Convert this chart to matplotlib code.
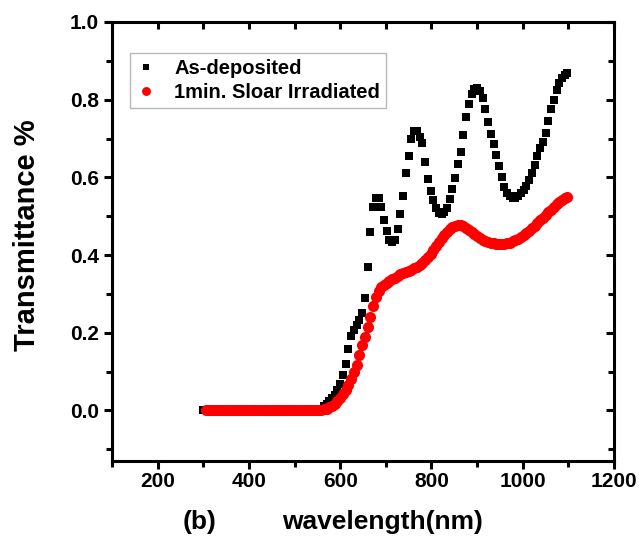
import numpy as np
import matplotlib
matplotlib.use('Agg')
import matplotlib.pyplot as plt
from matplotlib.ticker import MultipleLocator, FormatStrFormatter

plt.rcParams['font.family'] = ['Liberation Sans', 'DejaVu Sans']
plt.rcParams['font.weight'] = 'bold'

# wavelength grid of each scan (nm)
wl_deposited = np.arange(300, 1101, 6)
wl_irradiated = np.arange(306, 1101, 6)

# transmittance of the as-deposited film
T_deposited = [
    0.0, 0.0, 0.0, 0.0, 0.0, 0.0, 0.0, 0.0, 0.0, 0.0,
    0.0, 0.0, 0.0, 0.0, 0.0, 0.0, 0.0, 0.0, 0.0, 0.0,
    0.0, 0.0, 0.0, 0.0, 0.0, 0.0, 0.0, 0.0, 0.0, 0.0,
    0.0, 0.0, 0.0, 0.0, 0.0, 0.0, 0.0, 0.0, 0.0, 0.0,
    0.0, 0.0, 0.0,
    0.005, 0.011, 0.017, 0.024, 0.032, 0.04, 0.052, 0.068, 0.092, 0.12,
    0.158, 0.192, 0.208, 0.22, 0.232, 0.25, 0.29, 0.37, 0.46, 0.525,
    0.548, 0.548, 0.525, 0.49, 0.462, 0.44, 0.433, 0.44, 0.468, 0.505,
    0.552, 0.61, 0.655, 0.698, 0.72, 0.72, 0.705, 0.688, 0.64, 0.597,
    0.565, 0.542, 0.522, 0.508, 0.505, 0.512, 0.522, 0.545, 0.57, 0.598,
    0.635, 0.665, 0.71, 0.755, 0.79, 0.815, 0.828, 0.83, 0.823, 0.805,
    0.775, 0.742, 0.712, 0.685, 0.657, 0.628, 0.6, 0.575, 0.56, 0.552,
    0.548, 0.547, 0.552, 0.56, 0.567, 0.578, 0.592, 0.61, 0.632, 0.655,
    0.675, 0.692, 0.715, 0.745, 0.775, 0.8, 0.825, 0.843, 0.856, 0.863,
    0.868,
]

# transmittance after 1 min of solar irradiation
T_irradiated = [
    0.0, 0.0, 0.0, 0.0, 0.0, 0.0, 0.0, 0.0, 0.0, 0.0,
    0.0, 0.0, 0.0, 0.0, 0.0, 0.0, 0.0, 0.0, 0.0, 0.0,
    0.0, 0.0, 0.0, 0.0, 0.0, 0.0, 0.0, 0.0, 0.0, 0.0,
    0.0, 0.0, 0.0, 0.0, 0.0, 0.0, 0.0, 0.0, 0.0, 0.0,
    0.0, 0.0,
    0.002, 0.003, 0.005, 0.008, 0.012, 0.017, 0.024, 0.032, 0.042, 0.053,
    0.066, 0.08, 0.098, 0.118, 0.142, 0.168, 0.19, 0.215, 0.24, 0.268,
    0.292, 0.308, 0.317, 0.323, 0.328, 0.333, 0.338, 0.342, 0.346, 0.35,
    0.353, 0.356, 0.359, 0.362, 0.366, 0.37, 0.375, 0.38, 0.388, 0.395,
    0.403, 0.412, 0.423, 0.433, 0.443, 0.452, 0.46, 0.466, 0.472, 0.476,
    0.478, 0.477, 0.474, 0.47, 0.465, 0.459, 0.453, 0.448, 0.444, 0.44,
    0.437, 0.434, 0.432, 0.43, 0.429, 0.428, 0.428, 0.429, 0.43, 0.432,
    0.435, 0.438, 0.442, 0.447, 0.452, 0.458, 0.463, 0.469, 0.475, 0.482,
    0.489, 0.496, 0.503, 0.51, 0.517, 0.524, 0.531, 0.537, 0.542, 0.546,
    0.55,
]

labels = ['As-deposited', '1min. Sloar Irradiated']

fig = plt.figure(figsize=(6.39, 5.41), dpi=100)
ax = fig.add_axes([0.1753, 0.1479, 0.7856, 0.8115])

ax.plot(wl_deposited, T_deposited, 's', color='black', ms=5.5, mew=0, label=labels[0])
ax.plot(wl_irradiated, T_irradiated, 'o', color='#ff0000', ms=8, mew=0, label=labels[1])

ax.set_xlim(100, 1200)
ax.set_ylim(-0.13, 1.0)
ax.xaxis.set_major_locator(MultipleLocator(200))
ax.xaxis.set_minor_locator(MultipleLocator(100))
ax.yaxis.set_major_locator(MultipleLocator(0.2))
ax.yaxis.set_minor_locator(MultipleLocator(0.1))
ax.yaxis.set_major_formatter(FormatStrFormatter('%.1f'))

for s in ax.spines.values():
    s.set_linewidth(2.2)
ax.tick_params(which='both', direction='out', width=2.2, labelsize=15)
ax.tick_params(which='major', length=6)
ax.tick_params(which='minor', length=4)
ax.tick_params(axis='x', which='major', pad=2)

# inward ticks on the top and right frame, no labels
top = ax.secondary_xaxis('top')
top.xaxis.set_major_locator(MultipleLocator(100))
top.tick_params(direction='in', length=5, width=2.2, labeltop=False)
right = ax.secondary_yaxis('right')
right.yaxis.set_major_locator(MultipleLocator(0.2))
right.yaxis.set_minor_locator(MultipleLocator(0.1))
right.tick_params(which='both', direction='in', width=2.2, labelright=False)
right.tick_params(which='major', length=6)
right.tick_params(which='minor', length=4)

leg = ax.legend(loc='upper left', bbox_to_anchor=(0.036, 0.929), borderaxespad=0,
                fontsize=14.5, fancybox=False, framealpha=1, edgecolor='#b8b8b8',
                handlelength=1.0, handletextpad=0.9, borderpad=0.3, labelspacing=0.25,
                markerscale=0.8)
leg.get_frame().set_linewidth(1.0)

fig.text(27 / 639, 1 - 235 / 541, 'Transmittance %', rotation=90, ha='center', va='center',
         fontsize=21, fontweight='bold')
fig.text(383 / 639, 1 - 522 / 541, 'wavelength(nm)', ha='center', va='center',
         fontsize=19, fontweight='bold')
fig.text(200 / 639, 1 - 522 / 541, '(b)', ha='center', va='center',
         fontsize=19, fontweight='bold')

fig.savefig('out.png', dpi=100)
